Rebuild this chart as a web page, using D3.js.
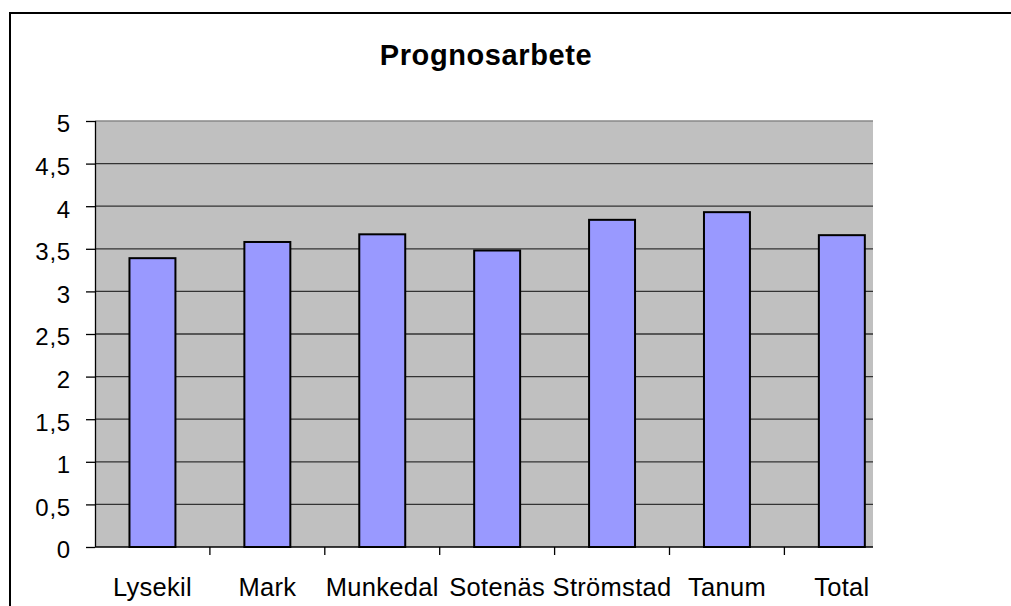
<!DOCTYPE html>
<meta charset="utf-8">
<title>Prognosarbete</title>
<style>
    body { margin: 0; background: #fff; }
    text { font-family: "Liberation Sans", Arial, sans-serif; fill: #000; }
</style>
<script src="https://d3js.org/d3.v7.js"></script>
<body>
<script>
    // data
    const categories = ["Lysekil", "Mark", "Munkedal", "Sotenäs", "Strömstad", "Tanum", "Total"];
    const values = [3.39, 3.58, 3.67, 3.48, 3.84, 3.93, 3.66];
    const yTicks = [0, 0.5, 1, 1.5, 2, 2.5, 3, 3.5, 4, 4.5, 5];

    const W = 1011, H = 606;

    // plot area (gray box is cut off at the right, bands keep going)
    const plot = { left: 95, top: 121, right: 873, bottom: 547 };
    const bandStep = 114.9;

    const svg = d3.select("body")
        .append("svg")
        .attr("width", W)
        .attr("height", H);

    // outer chart border, runs off right and bottom
    svg.append("rect")
        .attr("x", 10)
        .attr("y", 13)
        .attr("width", 1100)
        .attr("height", 700)
        .attr("fill", "none")
        .attr("stroke", "#000")
        .attr("stroke-width", 2);

    svg.append("text")
        .attr("x", 486)
        .attr("y", 65)
        .attr("text-anchor", "middle")
        .style("font-size", "29px")
        .style("font-weight", "bold")
        .style("letter-spacing", "0.6px")
        .text("Prognosarbete");

    const x = d3.scaleBand()
        .domain(categories)
        .range([plot.left, plot.left + bandStep * categories.length])
        .paddingInner(0.6)
        .paddingOuter(0.3);

    const y = d3.scaleLinear()
        .domain([0, 5])
        .range([plot.bottom, plot.top]);

    // gray background
    svg.append("rect")
        .attr("x", plot.left)
        .attr("y", plot.top)
        .attr("width", plot.right - plot.left)
        .attr("height", plot.bottom - plot.top)
        .attr("fill", "#c0c0c0");

    // gridlines
    svg.selectAll(".grid")
        .data(yTicks.filter(d => d > 0 && d < 5))
        .join("line")
        .attr("x1", plot.left)
        .attr("x2", plot.right)
        .attr("y1", d => y(d))
        .attr("y2", d => y(d))
        .attr("stroke", "#333")
        .attr("stroke-width", 1.3);

    svg.append("line")
        .attr("x1", plot.left).attr("x2", plot.right)
        .attr("y1", y(5)).attr("y2", y(5))
        .attr("stroke", "#888")
        .attr("stroke-width", 1.3);

    // bars
    svg.selectAll(".bar")
        .data(values)
        .join("rect")
        .attr("x", (d, i) => x(categories[i]))
        .attr("y", d => y(d))
        .attr("width", x.bandwidth())
        .attr("height", d => y(0) - y(d))
        .attr("fill", "#9999ff")
        .attr("stroke", "#000")
        .attr("stroke-width", 2);

    // y axis
    const yAxis = svg.append("g")
        .attr("transform", `translate(${plot.left},0)`)
        .call(d3.axisLeft(y)
            .tickValues(yTicks)
            .tickSize(9)
            .tickPadding(15)
            .tickFormat(d => String(d).replace(".", ",")));
    yAxis.select(".domain").attr("stroke", "#000").attr("stroke-width", 1.3)
        .attr("d", `M0.5,${plot.top}V${plot.bottom}`);
    yAxis.selectAll(".tick line").attr("stroke", "#000").attr("stroke-width", 1.3);
    yAxis.selectAll(".tick text")
        .style("font-size", "24px")
        .style("letter-spacing", "0.8px")
        .attr("font-family", null)
        .attr("dy", "0.45em");

    // x axis: ticks sit between the categories
    const bounds = d3.range(1, categories.length).map(i => plot.left + i * bandStep);
    const xAxis = svg.append("g");
    xAxis.append("line")
        .attr("x1", plot.left).attr("x2", plot.right)
        .attr("y1", plot.bottom).attr("y2", plot.bottom)
        .attr("stroke", "#000").attr("stroke-width", 1.3);
    xAxis.selectAll(".xt")
        .data(bounds)
        .join("line")
        .attr("x1", d => d).attr("x2", d => d)
        .attr("y1", plot.bottom).attr("y2", plot.bottom + 8)
        .attr("stroke", "#000").attr("stroke-width", 1.3);

    svg.selectAll(".xl")
        .data(categories)
        .join("text")
        .attr("x", d => x(d) + x.bandwidth() / 2)
        .attr("y", 596)
        .attr("text-anchor", "middle")
        .style("font-size", "25.5px")
        .style("letter-spacing", "0.3px")
        .text(d => d);
</script>
</body>
